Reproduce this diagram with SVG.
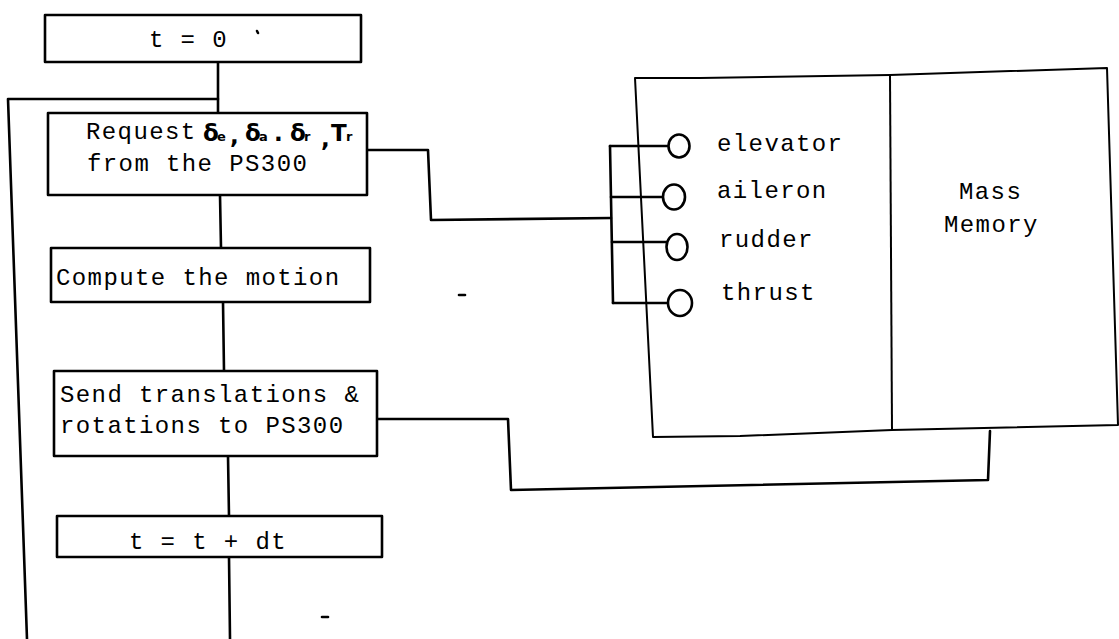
<svg xmlns="http://www.w3.org/2000/svg" width="1119" height="639" viewBox="0 0 1119 639">
  <style>
    .box { fill: #fff; stroke: #000; stroke-width: 2.6; stroke-linejoin: round; }
    .wire { fill: none; stroke: #000; stroke-width: 2.6; stroke-linejoin: round; stroke-linecap: round; }
    .thin { fill: none; stroke: #000; stroke-width: 2; stroke-linejoin: round; }
    .port { fill: #fff; stroke: #000; stroke-width: 2.6; }
    .t { font-family: "Liberation Mono", "DejaVu Sans Mono", monospace; font-size: 24px; letter-spacing: 1.4px; fill: #000; }
    .g { font-family: "DejaVu Sans", "Liberation Sans", sans-serif; font-weight: bold; font-size: 23px; fill: #000; }
    .gs { font-size: 13px; }
  </style>
  <rect width="1119" height="639" fill="#fff"/>

  <g id="connectors">
    <path class="wire" d="M218,62 L218,113"/>
    <path class="wire" d="M220,195 L221,248"/>
    <path class="wire" d="M223,302 L224,371"/>
    <path class="wire" d="M228,456 L229,516"/>
    <path class="wire" d="M229,557 L230,639"/>
    <path class="wire" d="M218,99 L8,99 L27,639"/>
    <path class="wire" d="M367,150 L428,150 L431,220 L611,218"/>
    <path class="wire" d="M610,146 L613,303"/>
    <path class="wire" d="M610,146 L669,146"/>
    <path class="wire" d="M611,197 L663,197"/>
    <path class="wire" d="M612,242 L668,242"/>
    <path class="wire" d="M613,303 L668,303"/>
    <path class="wire" d="M377,419 L508,419 L511,490 L988,480 L990,431"/>
  </g>

  <g id="n-t0">
    <rect class="box" x="45" y="15" width="316" height="47"/>
    <text class="t" x="149" y="47">t = 0</text>
  </g>

  <g id="n-request">
    <rect class="box" x="48" y="113" width="319" height="82"/>
    <text class="t" x="86" y="139">Request</text>
    <text class="g"><tspan x="203" y="141">δ</tspan><tspan class="gs" x="217" y="141">e</tspan><tspan x="230" y="144">,</tspan><tspan x="245" y="141">δ</tspan><tspan class="gs" x="259" y="141">a</tspan><tspan x="274" y="141">.</tspan><tspan x="290" y="141">δ</tspan><tspan class="gs" x="304" y="141">r</tspan><tspan x="321" y="147">,</tspan><tspan x="331" y="141">T</tspan><tspan class="gs" x="346" y="141">r</tspan></text>
    <text class="t" x="87" y="171">from the PS300</text>
  </g>

  <g id="n-compute">
    <rect class="box" x="51" y="248" width="319" height="54"/>
    <text class="t" x="56" y="285">Compute the motion</text>
  </g>

  <g id="n-send">
    <rect class="box" x="54" y="371" width="323" height="85"/>
    <text class="t" x="60" y="402">Send translations &amp;</text>
    <text class="t" x="60" y="433">rotations to PS300</text>
  </g>

  <g id="n-tdt">
    <rect class="box" x="57" y="516" width="325" height="41"/>
    <text class="t" x="129" y="549">t = t + dt</text>
  </g>

  <g id="n-ps300">
    <path class="thin" d="M635,78 L700,78 L890,75 L1107,68 L1118,425 L892,430 L740,436 L653,437 Z"/>
    <path class="thin" d="M890,75 L892,430"/>
    <ellipse class="port" cx="679" cy="146" rx="10.5" ry="11.5"/>
    <ellipse class="port" cx="674" cy="197" rx="11" ry="12.5"/>
    <ellipse class="port" cx="677" cy="247" rx="10.5" ry="13"/>
    <ellipse class="port" cx="680" cy="303" rx="12" ry="13"/>
    <text class="t" x="717" y="151">elevator</text>
    <text class="t" x="717" y="198">aileron</text>
    <text class="t" x="719" y="247">rudder</text>
    <text class="t" x="721" y="300">thrust</text>
  </g>

  <g id="n-mass">
    <text class="t" x="959" y="199">Mass</text>
    <text class="t" x="944" y="232">Memory</text>
  </g>

  <g id="marks">
    <path class="wire" d="M257,31 L258,33" stroke-width="1.5"/>
    <path class="wire" d="M459,295 L465,295" stroke-width="2"/>
    <path class="wire" d="M322,617 L328,617" stroke-width="2"/>
  </g>
</svg>
